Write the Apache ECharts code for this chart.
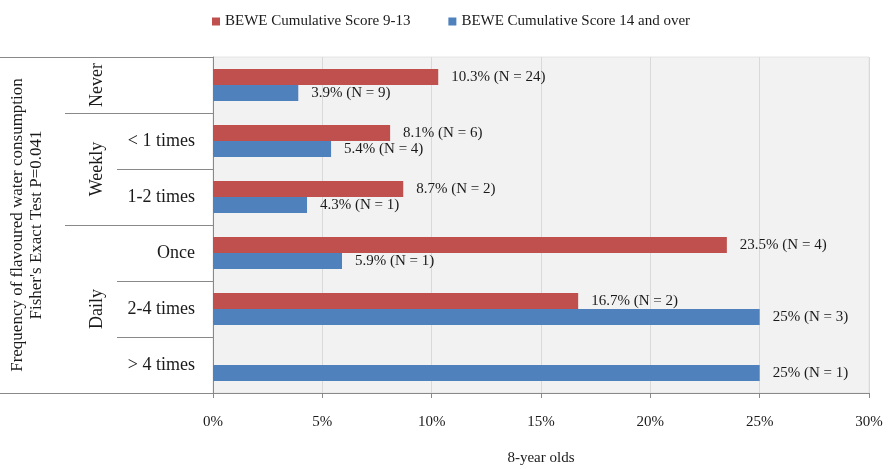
<!DOCTYPE html>
<html>
<head>
<meta charset="utf-8">
<script src="https://cdn.jsdelivr.net/npm/echarts@6/dist/echarts.min.js"></script>
<style>
  html, body { margin: 0; padding: 0; background: #fff; }
  #chart { width: 890px; height: 469px; }
</style>
</head>
<body>
<div id="chart"></div>
<script>
// rows, top to bottom
const categories = ["", "< 1 times", "1-2 times", "Once", "2-4 times", "> 4 times"];
const groupNames = ["Never", "Weekly", "Daily"];
const groupSizes = [1, 2, 3];

const seriesNames = ["BEWE Cumulative Score 9-13", "BEWE Cumulative Score 14 and over"];
const scoreLowPct = [10.3, 8.1, 8.7, 23.5, 16.7, null];
const scoreLowN = [24, 6, 2, 4, 2, null];
const scoreHighPct = [3.9, 5.4, 4.3, 5.9, 25, 25];
const scoreHighN = [9, 4, 1, 1, 3, 1];

const xMin = 0, xMax = 30, xStep = 5;

// group boundaries and centres in row units
let groupEdges = [], groupCentres = [], acc = 0;
groupSizes.forEach(function (n, i) {
  groupCentres.push(acc + n / 2);
  acc += n;
  if (i < groupSizes.length - 1) groupEdges.push(acc);
});
const rowCount = categories.length;

const font = "Liberation Serif";
const lineGray = "#898989";

const chart = echarts.init(document.getElementById("chart"));

function barLabel(counts) {
  return {
    show: true,
    position: "right",
    distance: 13,
    fontFamily: font,
    fontSize: 15,
    color: "#1a1a1a",
    formatter: function (p) {
      return p.value + "% (N = " + counts[p.dataIndex] + ")";
    }
  };
}

const options = {
  animation: false,
  color: ["#C0504D", "#4F81BD"],
  legend: {
    data: seriesNames,
    top: 9,
    left: 207,
    itemWidth: 8,
    itemHeight: 8,
    itemGap: 38,
    icon: "rect",
    textStyle: { fontFamily: font, fontSize: 15, color: "#1a1a1a" }
  },
  grid: {
    left: 213,
    right: 21,
    top: 57,
    bottom: 76,
    show: true,
    backgroundColor: "#f2f2f2",
    borderColor: "#e4e4e4",
    borderWidth: 1,
    outerBoundsMode: "none"
  },
  xAxis: {
    type: "value",
    position: "bottom",
    min: xMin,
    max: xMax,
    interval: xStep,
    name: "8-year olds",
    nameLocation: "middle",
    nameGap: 58,
    nameTextStyle: { fontFamily: font, fontSize: 15, color: "#1a1a1a" },
    axisLine: { show: true, onZero: false, lineStyle: { color: lineGray } },
    axisTick: { show: true, length: 5, lineStyle: { color: lineGray } },
    axisLabel: {
      margin: 22,
      fontFamily: font,
      fontSize: 15,
      color: "#1a1a1a",
      formatter: "{value}%"
    },
    splitLine: { show: true, lineStyle: { color: "#d9d9d9" } }
  },
  yAxis: [
    {
      type: "category",
      position: "left",
      data: categories,
      inverse: true,
      axisLine: { show: true, onZero: false, lineStyle: { color: lineGray } },
      axisTick: { show: true, interval: 0, length: 96, lineStyle: { color: lineGray } },
      axisLabel: {
        interval: 0,
        margin: 18,
        fontFamily: font,
        fontSize: 18,
        color: "#1a1a1a"
      },
      splitLine: { show: false }
    },
    {
      type: "value",
      position: "left",
      min: 0,
      max: rowCount,
      inverse: true,
      axisLine: { show: false, onZero: false },
      axisTick: { show: true, length: 148, customValues: groupEdges, lineStyle: { color: lineGray } },
      axisLabel: {
        show: true,
        rotate: 90,
        margin: 107,
        fontFamily: font,
        fontSize: 18,
        color: "#1a1a1a",
        customValues: groupCentres,
        formatter: function (v) {
          return groupNames[groupCentres.indexOf(v)];
        }
      },
      splitLine: { show: false }
    },
    {
      type: "value",
      position: "left",
      min: 0,
      max: rowCount,
      inverse: true,
      name: "Frequency of flavoured water consumption\nFisher's Exact Test P=0.041",
      nameLocation: "middle",
      nameRotate: 90,
      nameGap: 167,
      nameTextStyle: { fontFamily: font, fontSize: 17, lineHeight: 19, color: "#1a1a1a" },
      axisLine: { show: false, onZero: false },
      axisTick: { show: true, length: 213, customValues: [0, rowCount], lineStyle: { color: lineGray } },
      axisLabel: { show: false },
      splitLine: { show: false }
    }
  ],
  series: [
    {
      name: seriesNames[0],
      type: "bar",
      yAxisIndex: 0,
      data: scoreLowPct,
      barWidth: 16,
      barGap: "0%",
      label: barLabel(scoreLowN)
    },
    {
      name: seriesNames[1],
      type: "bar",
      yAxisIndex: 0,
      data: scoreHighPct,
      barWidth: 16,
      barGap: "0%",
      label: barLabel(scoreHighN)
    }
  ]
};

chart.setOption(options);
</script>
</body>
</html>
